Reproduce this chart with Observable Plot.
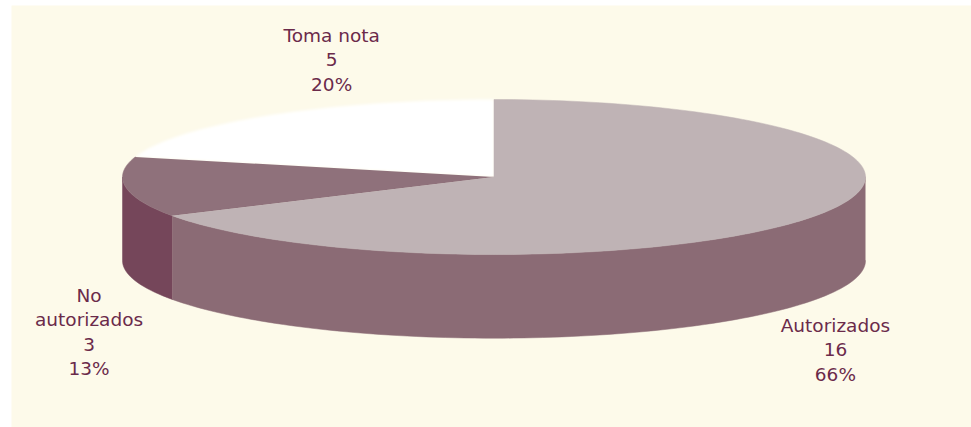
<!DOCTYPE html>
<html><head><meta charset="utf-8">
<script src="https://cdn.jsdelivr.net/npm/d3@7"></script>
<script src="https://cdn.jsdelivr.net/npm/@observablehq/plot@0.6"></script>
<style>html,body{margin:0;padding:0;background:#fff}svg{display:block}</style>
</head><body><div id="chart"></div>
<script>
const categories = ["Autorizados", "No autorizados", "Toma nota"];
const labels = ["Autorizados", "No\nautorizados", "Toma nota"];
const counts = [16, 3, 5];
const percents = ["66%", "13%", "20%"];
const topColors = ["#bfb3b5", "#8f717b", "#ffffff"];
const sideColors = ["#8b6b75", "#75465a", "#ffffff"];
const depth = 1.08;

const total = d3.sum(counts);
let acc = 0;
const slices = categories.map((c, i) => {
  const a0 = acc / total * 360; acc += counts[i];
  return {c, a0, a1: acc / total * 360, i};
});
const pt = (deg, dy = 0) => {
  const r = deg * Math.PI / 180;
  return {x: Math.sin(r), y: Math.cos(r) - dy};
};
const arc = (a0, a1, dy = 0) => {
  const n = Math.max(2, Math.ceil((a1 - a0) / 1.5));
  return d3.range(n + 1).map(k => pt(a0 + (a1 - a0) * k / n, dy));
};
const topFace = s => [{x: 0, y: 0}, ...arc(s.a0, s.a1)];
const sideFace = (a0, a1) => [...arc(a0, a1), ...arc(a0, a1, depth).reverse()];

const marks = [Plot.frame({fill: "#fdfaea", stroke: "none"})];
slices.forEach(s => {
  const a0 = Math.max(s.a0, 90), a1 = Math.min(s.a1, 270);
  if (a1 > a0) marks.push(Plot.line(sideFace(a0, a1), {x: "x", y: "y", fill: sideColors[s.i], stroke: sideColors[s.i], strokeWidth: 0.5}));
});
[2, 1, 0].forEach(i => {
  const s = slices[i];
  const o = {x: "x", y: "y", fill: topColors[i], stroke: "none"};
  if (s.c === "Toma nota") o.imageFilter = "blur(1.5px)";
  else { o.stroke = topColors[i]; o.strokeWidth = 0.5; }
  marks.push(Plot.line(topFace(s), o));
});
const labelPos = [{lx: 0.919, ly: -2.215}, {lx: -1.09, ly: -1.985}, {lx: -0.437, ly: 1.53}];
slices.forEach(s => {
  const i = s.i;
  const text = labels[i] + "\n" + counts[i] + "\n" + percents[i];
  const pos = labelPos[i];
  marks.push(Plot.text([text], {x: () => pos.lx, y: () => pos.ly, text: d => d, fill: "#6b2a4a",
    fontSize: 18.5, lineHeight: 1.32, fontFamily: "DejaVu Sans", lineAnchor: "middle", textAnchor: "middle"}));
});

const chart = Plot.plot({
  width: 971, height: 427,
  marginLeft: 11, marginTop: 5, marginRight: 0, marginBottom: 0,
  style: {background: "#fff"},
  x: {domain: [-1, 1], range: [122, 865], axis: null},
  y: {domain: [-1, 1], range: [254, 99], axis: null},
  marks
});
document.getElementById("chart").append(chart);
</script></body></html>
